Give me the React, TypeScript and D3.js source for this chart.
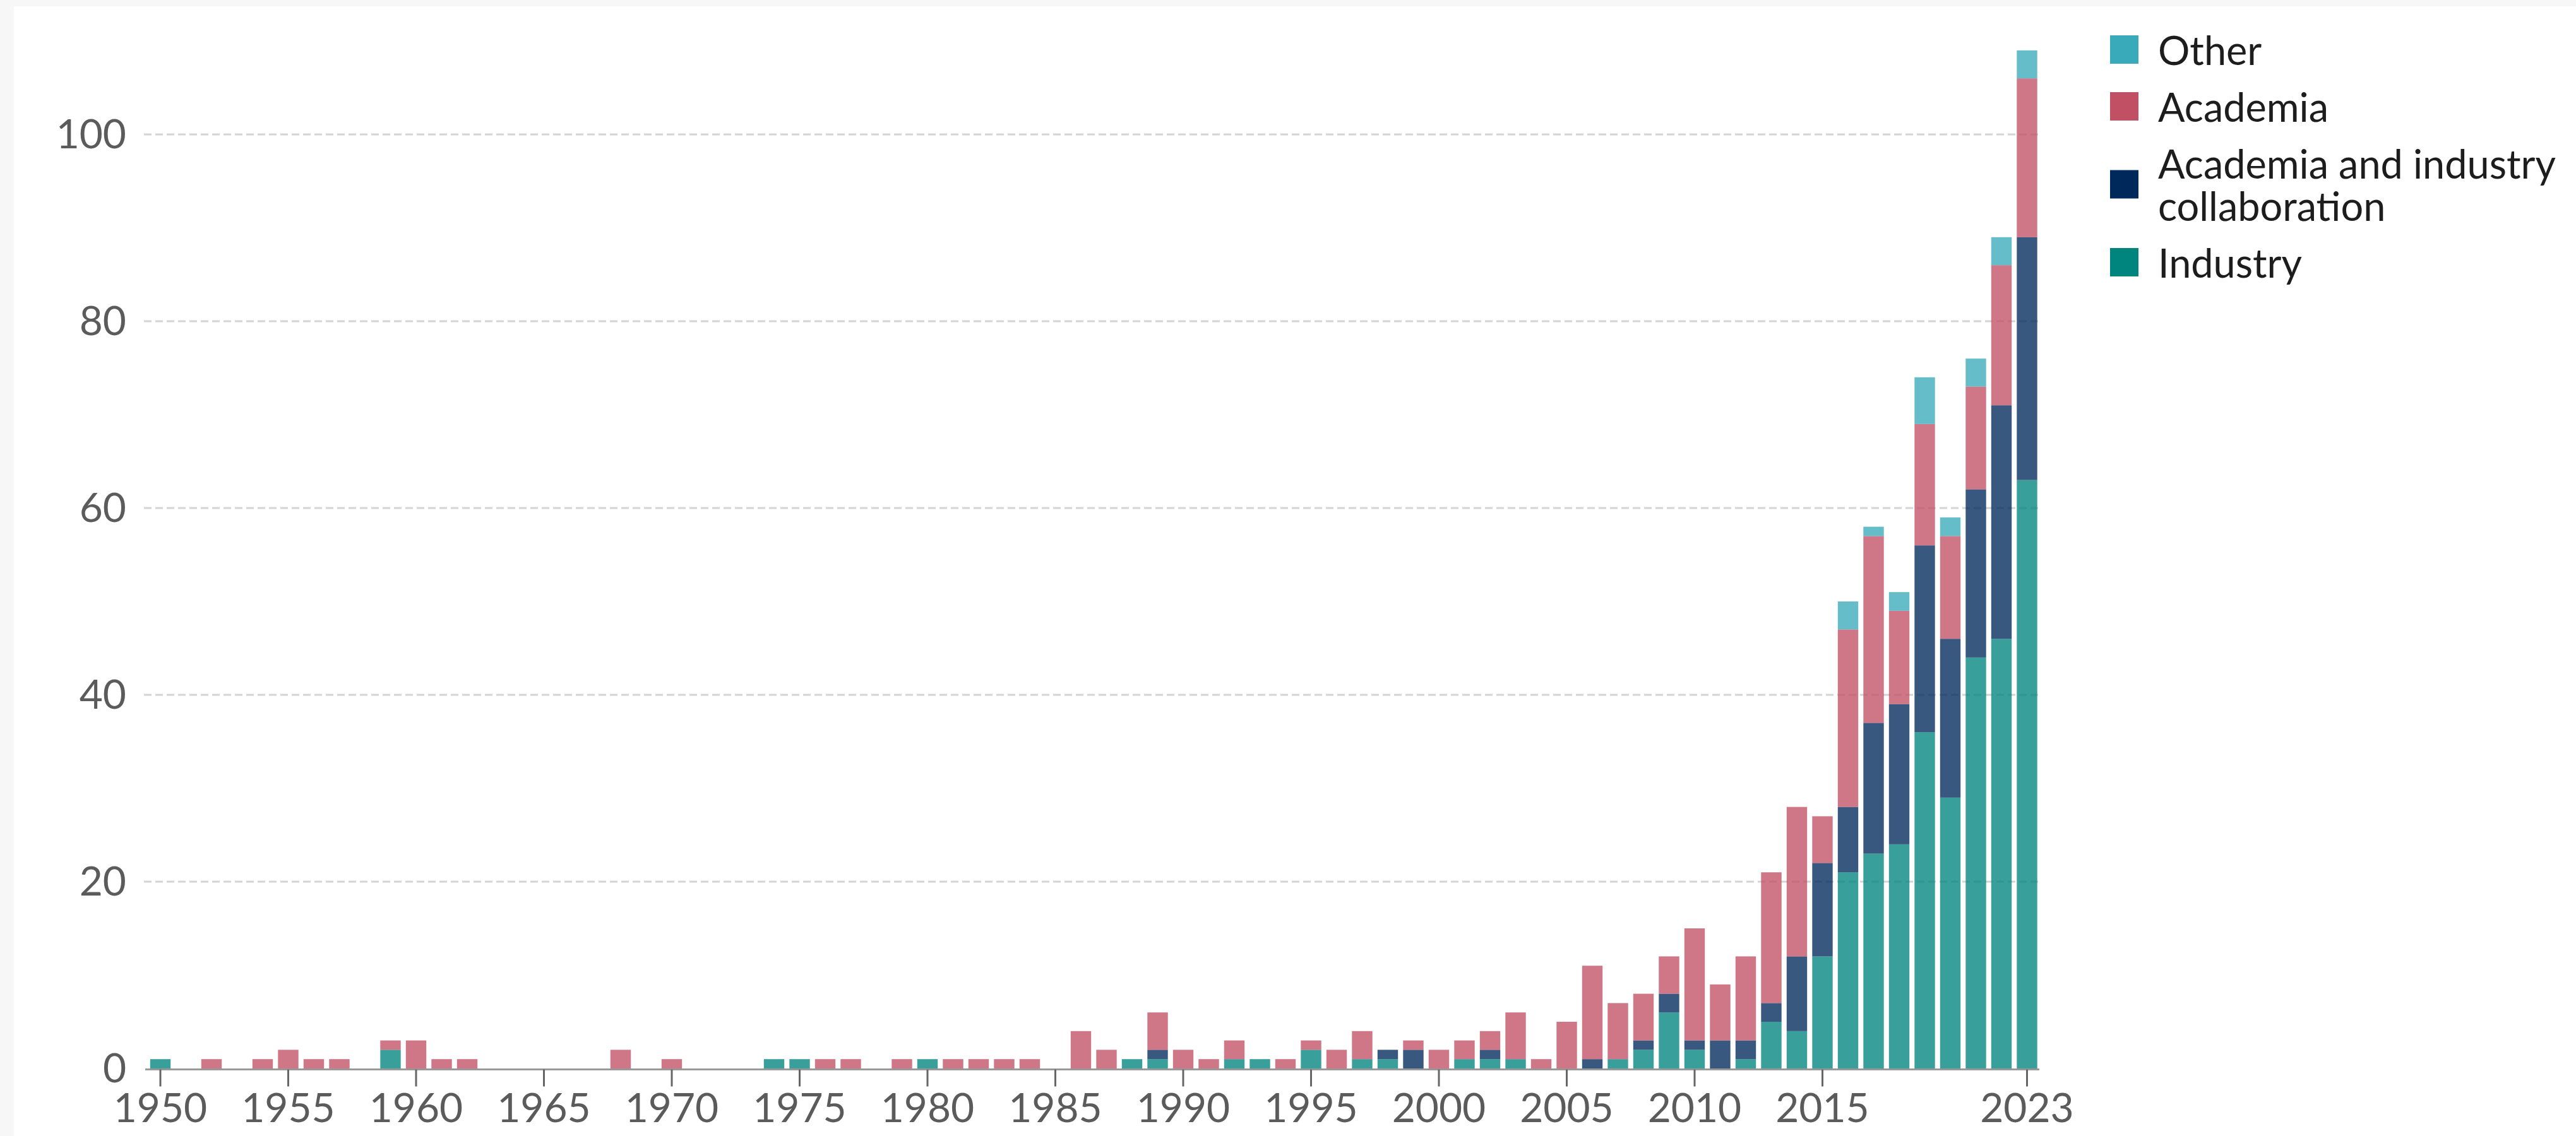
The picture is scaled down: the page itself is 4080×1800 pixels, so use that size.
import React from 'react';
import * as d3 from 'd3';

// year categories
const years: number[] = d3.range(1950, 2024);

// values, one entry per year 1950..2023
const industry = [
  1, 0, 0, 0, 0, 0, 0, 0, 0, 2,
  0, 0, 0, 0, 0, 0, 0, 0, 0, 0,
  0, 0, 0, 0, 1, 1, 0, 0, 0, 0,
  1, 0, 0, 0, 0, 0, 0, 0, 1, 1,
  0, 0, 1, 1, 0, 2, 0, 1, 1, 0,
  0, 1, 1, 1, 0, 0, 0, 1, 2, 6,
  2, 0, 1, 5, 4, 12, 21, 23, 24, 36,
  29, 44, 46, 63,
];
const collaboration = [
  0, 0, 0, 0, 0, 0, 0, 0, 0, 0,
  0, 0, 0, 0, 0, 0, 0, 0, 0, 0,
  0, 0, 0, 0, 0, 0, 0, 0, 0, 0,
  0, 0, 0, 0, 0, 0, 0, 0, 0, 1,
  0, 0, 0, 0, 0, 0, 0, 0, 1, 2,
  0, 0, 1, 0, 0, 0, 1, 0, 1, 2,
  1, 3, 2, 2, 8, 10, 7, 14, 15, 20,
  17, 18, 25, 26,
];
const academia = [
  0, 0, 1, 0, 1, 2, 1, 1, 0, 1,
  3, 1, 1, 0, 0, 0, 0, 0, 2, 0,
  1, 0, 0, 0, 0, 0, 1, 1, 0, 1,
  0, 1, 1, 1, 1, 0, 4, 2, 0, 4,
  2, 1, 2, 0, 1, 1, 2, 3, 0, 1,
  2, 2, 2, 5, 1, 5, 10, 6, 5, 4,
  12, 6, 9, 14, 16, 5, 19, 20, 10, 13,
  11, 11, 15, 17,
];
const other = [
  0, 0, 0, 0, 0, 0, 0, 0, 0, 0,
  0, 0, 0, 0, 0, 0, 0, 0, 0, 0,
  0, 0, 0, 0, 0, 0, 0, 0, 0, 0,
  0, 0, 0, 0, 0, 0, 0, 0, 0, 0,
  0, 0, 0, 0, 0, 0, 0, 0, 0, 0,
  0, 0, 0, 0, 0, 0, 0, 0, 0, 0,
  0, 0, 0, 0, 0, 0, 3, 1, 2, 5,
  2, 3, 3, 3,
];

const xTickYears = [1950, 1955, 1960, 1965, 1970, 1975, 1980, 1985, 1990, 1995, 2000, 2005, 2010, 2015, 2023];
const yTicks = [0, 20, 40, 60, 80, 100];

// stack order bottom -> top
const seriesKeys = ['industry', 'collaboration', 'academia', 'other'];
const seriesColors: Record<string, string> = {
  industry: '#00847e',
  collaboration: '#00295b',
  academia: '#c15065',
  other: '#38aaba',
};
// legend order top -> bottom
const legendItems = [
  { key: 'other', lines: ['Other'] },
  { key: 'academia', lines: ['Academia'] },
  { key: 'collaboration', lines: ['Academia and industry', 'collaboration'] },
  { key: 'industry', lines: ['Industry'] },
];

const W = 4080;
const H = 1800;
const FONT = "Lato, 'Noto Sans', sans-serif";

export default function App() {
  const rows = years.map((year, i) => ({
    year,
    industry: industry[i],
    collaboration: collaboration[i],
    academia: academia[i],
    other: other[i],
  }));
  const stacked = d3.stack<any>().keys(seriesKeys)(rows);

  const x = d3.scaleBand<number>()
    .domain(years)
    .range([233.75, 3230.75])
    .paddingInner(0.2)
    .paddingOuter(0.1);
  const y = d3.scaleLinear().domain([0, 100]).range([1693, 213]);

  const axisY = y(0) + 1.5;
  const cx = (yr: number) => (x(yr) as number) + x.bandwidth() / 2;

  // legend layout
  const legX = 3342;
  const lineH = 67;
  let cursor = 56;
  const legend = legendItems.map((item) => {
    const blockH = 45 + lineH * (item.lines.length - 1);
    const top = cursor;
    cursor += blockH + 45;
    return { ...item, top, blockH };
  });

  return (
    <svg width={W} height={H} style={{ position: 'absolute', left: 0, top: 0, display: 'block' }}>
      <rect x={0} y={0} width={W} height={H} fill="#f7f7f7" />
      <rect x={22} y={10} width={W - 22} height={H - 10} fill="#ffffff" />

      {/* grid lines */}
      {yTicks.filter((t) => t > 0).map((t) => (
        <line key={t} x1={228} x2={3231} y1={y(t)} y2={y(t)}
          stroke="#d4d4d4" strokeWidth={3} strokeDasharray="12,6" />
      ))}

      {/* y labels */}
      {yTicks.map((t) => (
        <text key={t} x={200} y={y(t)} dy="0.35em" textAnchor="end"
          fontFamily={FONT} fontSize={64} fill="#5b5b5b">{t}</text>
      ))}

      {/* bars */}
      {stacked.map((layer) => (
        <g key={layer.key} fill={seriesColors[layer.key]} fillOpacity={0.78}>
          {layer.map((d, i) => (d[1] - d[0] > 0 ? (
            <rect key={i} x={x(years[i])} width={x.bandwidth()}
              y={y(d[1])} height={y(d[0]) - y(d[1])} />
          ) : null))}
        </g>
      ))}

      {/* x axis */}
      <line x1={230} x2={3230} y1={axisY} y2={axisY} stroke="#999999" strokeWidth={3} />
      {xTickYears.map((yr) => (
        <g key={yr}>
          <line x1={cx(yr)} x2={cx(yr)} y1={axisY} y2={axisY + 27} stroke="#666666" strokeWidth={3} />
          <text x={cx(yr)} y={1778} textAnchor="middle" fontFamily={FONT} fontSize={64} fill="#5b5b5b">{yr}</text>
        </g>
      ))}

      {/* legend */}
      {legend.map((item) => {
        const sqTop = item.top + (item.blockH - 45) / 2;
        return (
          <g key={item.key}>
            <rect x={legX} y={sqTop} width={45} height={45} fill={seriesColors[item.key]} />
            {item.lines.map((ln, j) => (
              <text key={j} x={legX + 76} y={item.top + 47 + j * lineH}
                fontFamily={FONT} fontSize={63} fill="#1d1d1d">{ln}</text>
            ))}
          </g>
        );
      })}
    </svg>
  );
}
